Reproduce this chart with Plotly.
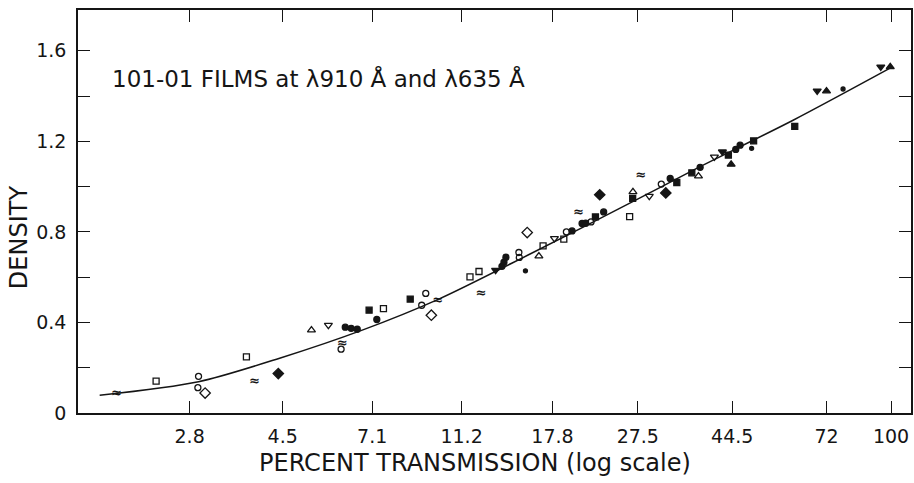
import plotly.graph_objects as go

# Fitted calibration curve (percent transmission, density)
curve_T = [1.77, 2.93, 4.43, 6.75, 9.97, 15.8, 27.2, 37.5, 60.7, 99.5]
curve_D = [0.078, 0.138, 0.242, 0.366, 0.503, 0.70, 0.94, 1.085, 1.293, 1.523]

# Measured film points, grouped by plotting symbol
open_rect_T = [2.36, 3.74, 7.52, 11.69, 12.24, 16.97, 18.86, 26.38]
open_rect_D = [0.141, 0.248, 0.461, 0.601, 0.625, 0.738, 0.768, 0.867]

open_ell_T = [2.93, 2.92, 6.06, 9.33, 9.14, 15.0, 15.03, 19.11, 21.67, 31.0]
open_ell_D = [0.162, 0.112, 0.282, 0.528, 0.476, 0.709, 0.687, 0.800, 0.844, 1.011]

open_diam_T = [3.03, 9.60, 15.65]
open_diam_D = [0.088, 0.432, 0.797]

open_tri_up_T = [5.21, 16.61, 26.83, 37.47]
open_tri_up_D = [0.366, 0.693, 0.977, 1.046]

open_tri_dn_T = [5.68, 17.98, 29.16, 40.64]
open_tri_dn_D = [0.388, 0.771, 0.958, 1.131]

fill_diam_T = [4.40, 22.65, 31.72]
fill_diam_D = [0.174, 0.964, 0.972]

fill_sq_T = [8.62, 22.16, 43.64, 61.21, 6.99, 26.79, 36.22, 49.63, 33.55]
fill_sq_D = [0.503, 0.866, 1.139, 1.266, 0.454, 0.948, 1.061, 1.202, 1.018]

fill_ell_T = [6.19, 6.38, 6.58, 7.27, 13.76, 13.90, 14.04, 19.67, 20.70, 21.09,
              23.11, 32.44, 37.79, 45.31, 46.33]
fill_ell_D = [0.379, 0.374, 0.370, 0.413, 0.648, 0.666, 0.688, 0.804, 0.837, 0.838,
              0.888, 1.036, 1.085, 1.164, 1.183]

fill_dot_T = [15.51, 49.13, 78.3]
fill_dot_D = [0.628, 1.169, 1.431]

fill_tri_dn_T = [13.32, 42.33, 68.63, 94.9]
fill_tri_dn_D = [0.631, 1.154, 1.423, 1.529]

fill_tri_up_T = [44.26, 71.97, 99.6]
fill_tri_up_D = [1.098, 1.422, 1.529]

wave_T = [1.93, 3.90, 6.10, 9.93, 12.38, 20.35, 27.94]
wave_D = [0.083, 0.137, 0.307, 0.495, 0.525, 0.884, 1.046]

x_tick_vals = [2.8, 4.5, 7.1, 11.2, 17.8, 27.5, 44.5, 72, 100]
x_tick_text = ["2.8", "4.5", "7.1", "11.2", "17.8", "27.5", "44.5", "72", "100"]

INK = "#151515"
FONT = "DejaVu Sans"

fig = go.Figure()

fig.add_trace(go.Scatter(x=curve_T, y=curve_D, mode="lines",
                         line=dict(color=INK, width=1.5, shape="spline", smoothing=0.8)))

def pts(xs, ys, symbol, size=7):
    fig.add_trace(go.Scatter(
        x=xs, y=ys, mode="markers",
        marker=dict(symbol=symbol, size=size, color=INK,
                    line=dict(color=INK, width=1.3))))

pts(open_rect_T, open_rect_D, "square-open", 6)
pts(open_ell_T, open_ell_D, "circle-open", 6)
pts(open_diam_T, open_diam_D, "diamond-open", 8)
pts(open_tri_up_T, open_tri_up_D, "triangle-up-open", 7)
pts(open_tri_dn_T, open_tri_dn_D, "triangle-down-open", 7)
pts(fill_diam_T, fill_diam_D, "diamond", 8)
pts(fill_sq_T, fill_sq_D, "square", 6)
pts(fill_ell_T, fill_ell_D, "circle", 6)
pts(fill_dot_T, fill_dot_D, "circle", 4)
pts(fill_tri_dn_T, fill_tri_dn_D, "triangle-down", 7)
pts(fill_tri_up_T, fill_tri_up_D, "triangle-up", 7)

fig.add_trace(go.Scatter(x=wave_T, y=wave_D, mode="text", text=["≈"] * len(wave_T),
                         textfont=dict(family=FONT, size=13, color=INK, weight="bold")))

fig.update_layout(
    width=914, height=483,
    margin=dict(l=78, r=1, t=10, b=70),
    paper_bgcolor="white", plot_bgcolor="white",
    showlegend=False,
    font=dict(family=FONT, size=19, color=INK),
    xaxis=dict(type="log", range=[0.2, 2.0442],
               tickvals=x_tick_vals, ticktext=x_tick_text,
               ticks="inside", ticklen=12, tickwidth=1.2, tickcolor=INK,
               showline=True, linecolor=INK, linewidth=1.5, mirror="ticks",
               showgrid=False, zeroline=False, ticklabelstandoff=5),
    yaxis=dict(range=[0, 1.78], tickvals=[0, 0.4, 0.8, 1.2, 1.6],
               ticktext=["0", "0.4", "0.8", "1.2", "1.6"],
               ticks="inside", ticklen=12, tickwidth=1.2, tickcolor=INK,
               minor=dict(tickvals=[0.2, 0.6, 1.0, 1.4], ticks="inside",
                          ticklen=12, tickwidth=1.2, tickcolor=INK, showgrid=False),
               showline=True, linecolor=INK, linewidth=1.5, mirror="ticks",
               showgrid=False, zeroline=False, ticklabelstandoff=6),
    annotations=[
        dict(text="101-01 FILMS at λ910 Å and λ635 Å", xref="paper", yref="paper",
             x=(110 - 78) / 835, y=(413 - 78) / 403, xanchor="left", yanchor="middle",
             showarrow=False, font=dict(family=FONT, size=23, color=INK)),
        dict(text="PERCENT TRANSMISSION (log scale)", xref="paper", yref="paper",
             x=(476 - 78) / 835, y=(413 - 463) / 403, xanchor="center", yanchor="middle",
             showarrow=False, font=dict(family=FONT, size=24, color=INK)),
        dict(text="DENSITY", xref="paper", yref="paper", textangle=-90,
             x=(19 - 78) / 835, y=(413 - 237) / 403, xanchor="center", yanchor="middle",
             showarrow=False, font=dict(family=FONT, size=24, color=INK)),
    ],
)

fig.write_html("out.html")
